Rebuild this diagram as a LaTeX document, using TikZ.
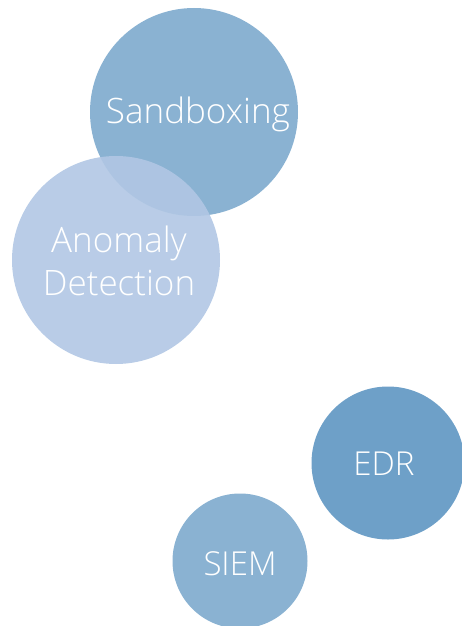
\documentclass[tikz,border=0pt]{standalone}
\usepackage{fontspec}
\setmainfont{Open Sans}[UprightFont=* Light]
\definecolor{midblue}{RGB}{138,178,210}
\definecolor{paleblue}{RGB}{177,199,228}
\definecolor{deepblue}{RGB}{110,160,200}
\begin{document}
\begin{tikzpicture}[x=1pt,y=-1pt,
  lbl/.style={text=white,align=center,font=\fontsize{35}{43}\selectfont}]
\useasboundingbox (0,0) rectangle (462,626);
\fill[midblue] (194,112) circle (104);
\fill[paleblue,fill opacity=0.9] (116,260) circle (104);
\fill[deepblue] (388,463) circle (76.5);
\fill[midblue] (240,561) circle (67.5);
\node[lbl] (sand) at (198,114) {Sandboxing};
\node[lbl] (anom) at (119,261) {Anomaly\\Detection};
\node[lbl,font=\fontsize{33}{40}\selectfont] (edr) at (384,464) {EDR};
\node[lbl,font=\fontsize{33}{40}\selectfont] (siem) at (240,564) {SIEM};
\end{tikzpicture}
\end{document}
